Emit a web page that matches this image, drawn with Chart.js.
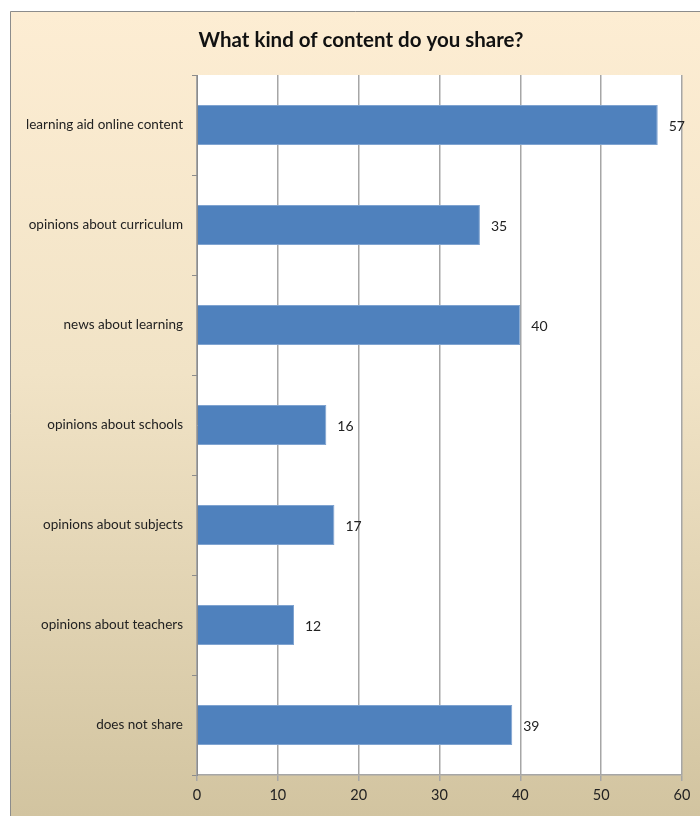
<!DOCTYPE html>
<html lang="en">
<head>
  <meta charset="UTF-8">
  <title>What kind of content do you share?</title>
  <style>
    html, body {
      margin: 0;
      padding: 0;
      background: #fff;
    }
    #wrap {
      width: 700px;
      height: 816px;
    }
  </style>
</head>
<body>
  <div id="wrap"><canvas id="chart" width="700" height="816"></canvas></div>

  <script src="https://cdn.jsdelivr.net/npm/chart.js"></script>
  <script>
    const categories = [
      'learning aid online content',
      'opinions about curriculum',
      'news about learning',
      'opinions about schools',
      'opinions about subjects',
      'opinions about teachers',
      'does not share'
    ];
    const shareCounts = [57, 35, 40, 16, 17, 12, 39];
    const xTicks = [0, 10, 20, 30, 40, 50, 60];
    const chartTitle = 'What kind of content do you share?';

    const FONT = 'Lato, "Open Sans", sans-serif';

    // cream-to-tan panel with a thin grey frame, plus white plot area
    const panelBg = {
      id: 'panelBg',
      beforeDraw(chart) {
        const ctx = chart.ctx;
        const { width, height } = chart;
        const area = chart.chartArea;
        ctx.save();
        const g = ctx.createLinearGradient(0, 11, 0, height);
        g.addColorStop(0, '#fdedd3');
        g.addColorStop(0.45, '#f1e3c6');
        g.addColorStop(1, '#d2c4a0');
        ctx.fillStyle = g;
        ctx.fillRect(10, 11, width - 10, height - 11);
        ctx.strokeStyle = '#8c8c8c';
        ctx.lineWidth = 1;
        ctx.beginPath();
        ctx.moveTo(10.5, height);
        ctx.lineTo(10.5, 11.5);
        ctx.lineTo(width, 11.5);
        ctx.stroke();
        ctx.fillStyle = '#ffffff';
        ctx.fillRect(area.left, area.top, area.right - area.left, area.bottom - area.top);

        ctx.fillStyle = '#111';
        ctx.font = 'bold 20.5px ' + FONT;
        ctx.textAlign = 'center';
        ctx.textBaseline = 'middle';
        ctx.fillText(chartTitle, 361, 40);
        ctx.restore();
      }
    };

    // value next to the end of each bar
    const barValues = {
      id: 'barValues',
      afterDatasetsDraw(chart) {
        const ctx = chart.ctx;
        const meta = chart.getDatasetMeta(0);
        ctx.save();
        ctx.fillStyle = '#222';
        ctx.font = '14px ' + FONT;
        ctx.textAlign = 'left';
        ctx.textBaseline = 'middle';
        meta.data.forEach((bar, i) => {
          ctx.fillText(String(shareCounts[i]), bar.x + 11, bar.y + 1);
        });
        ctx.restore();
      }
    };

    new Chart(document.getElementById('chart'), {
      type: 'bar',
      data: {
        labels: categories,
        datasets: [{
          data: shareCounts,
          backgroundColor: '#4f81bd',
          borderColor: '#7fa3d0',
          borderWidth: 1,
          barPercentage: 0.4,
          categoryPercentage: 1
        }]
      },
      options: {
        indexAxis: 'y',
        responsive: false,
        animation: false,
        layout: {
          padding: { left: 0, right: 18, top: 75, bottom: 0 }
        },
        plugins: {
          legend: { display: false },
          tooltip: { enabled: false }
        },
        scales: {
          x: {
            min: 0,
            max: 60,
            afterBuildTicks(scale) {
              scale.ticks = xTicks.map(v => ({ value: v }));
            },
            afterFit(scale) {
              scale.height = 41;
            },
            grid: {
              color: '#a6a6a6',
              lineWidth: 1.5,
              tickLength: 6,
              drawTicks: true
            },
            border: { color: '#a6a6a6', width: 1.5 },
            ticks: {
              color: '#222',
              padding: 6,
              font: { family: FONT, size: 14.5 }
            }
          },
          y: {
            afterFit(scale) {
              scale.width = 197;
            },
            grid: {
              drawOnChartArea: false,
              offset: true,
              color: '#8c8c8c',
              tickLength: 5
            },
            border: { color: '#8c8c8c', width: 1 },
            ticks: {
              color: '#222',
              padding: 9,
              font: { family: FONT, size: 13.5 }
            }
          }
        }
      },
      plugins: [panelBg, barValues]
    });
  </script>
</body>
</html>
